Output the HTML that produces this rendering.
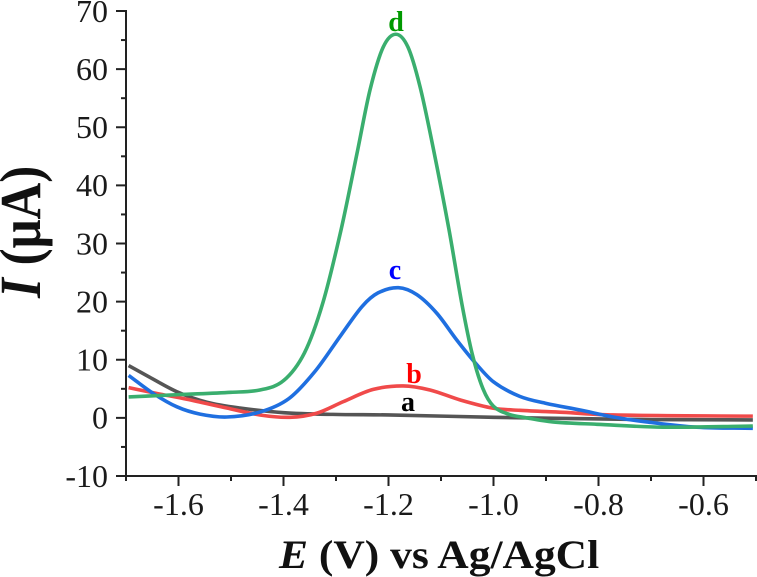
<!DOCTYPE html>
<html>
<head>
<meta charset="utf-8">
<style>
html,body{margin:0;padding:0;background:#fff;width:757px;height:577px;overflow:hidden}
svg{display:block}
text{font-family:"Liberation Serif",serif}
.tick{font-size:32px;fill:#1a1a1a}
.lab{font-size:28px;font-weight:bold;text-anchor:middle}
</style>
</head>
<body>
<svg id="chart" width="757" height="577" viewBox="0 0 757 577" xmlns="http://www.w3.org/2000/svg">
<g id="axes"></g>
<g id="series"></g>
<text class="lab" x="408" y="411" fill="#000">a</text>
<text class="lab" x="414" y="383" fill="#f00">b</text>
<text class="lab" x="395" y="279" fill="#00f">c</text>
<text class="lab" x="396" y="31" fill="#090">d</text>
<text transform="translate(279,568) scale(1,0.93)" font-size="43.5" font-weight="bold" fill="#111"><tspan font-style="italic">E</tspan> (V) vs Ag/AgCl</text>
<text transform="translate(40,298) rotate(-90) scale(1,1.15)" font-size="51" font-weight="bold" fill="#111"><tspan font-style="italic">I</tspan> (μA)</text>
</svg>
<script>
var xMajorTicks = [-1.6, -1.4, -1.2, -1.0, -0.8, -0.6];
var xMinorTicks = [-1.7, -1.5, -1.3, -1.1, -0.9, -0.7, -0.5];
var yMajorTicks = [-10, 0, 10, 20, 30, 40, 50, 60, 70];
var yMinorTicks = [-5, 5, 15, 25, 35, 45, 55, 65];

var aE = [-1.695, -1.655, -1.603, -1.546, -1.483, -1.4, -1.306, -1.2, -1.0, -0.9, -0.7, -0.506];
var aI = [9, 7, 4.5, 2.7, 1.7, 0.9, 0.6, 0.5, 0.1, -0.05, -0.3, -0.35];

var bE = [-1.695, -1.641, -1.584, -1.508, -1.445, -1.388, -1.337, -1.286, -1.229, -1.172, -1.121, -1.064, -1.0, -0.95, -0.868, -0.772, -0.506];
var bI = [5.2, 4.2, 3.2, 1.7, 0.5, 0.1, 0.8, 2.8, 4.9, 5.5, 4.8, 3.1, 1.65, 1.3, 0.95, 0.5, 0.3];

var cE = [-1.695, -1.648, -1.603, -1.559, -1.508, -1.445, -1.39, -1.34, -1.29, -1.25, -1.22, -1.181, -1.146, -1.108, -1.07, -1.035, -1.0, -0.95, -0.9, -0.835, -0.772, -0.708, -0.613, -0.506];
var cI = [7.3, 4.2, 1.9, 0.65, 0.15, 1, 3.3, 8, 14.3, 19.2, 21.5, 22.4, 21.2, 18, 13.4, 9.5, 6.2, 3.7, 2.5, 1.35, 0.15, -0.7, -1.6, -1.8];

var dE = [-1.695, -1.6, -1.5, -1.445, -1.4, -1.36, -1.325, -1.29, -1.26, -1.235, -1.21, -1.186, -1.163, -1.14, -1.115, -1.085, -1.06, -1.04, -1.02, -1.0, -0.97, -0.94, -0.887, -0.803, -0.677, -0.506];
var dI = [3.6, 4.0, 4.4, 4.8, 6.4, 11.2, 19.8, 32.5, 45.5, 56.5, 63.8, 66, 63.8, 57, 46.5, 32.5, 19.5, 10.8, 5, 2, 0.6, 0.05, -0.7, -1.1, -1.6, -1.4];

var NS = 'http://www.w3.org/2000/svg';
var axes = document.getElementById('axes');
var seriesGroup = document.getElementById('series');
var AXIS = '#222';

function sx(v) { return 126 + (v + 1.7) * 525; }
function sy(v) { return 476 - (v + 10) * 5.8125; }

function smoothPath(xs, ys) {
  var px = xs.map(sx), py = ys.map(sy);
  var d = 'M' + px[0] + ' ' + py[0];
  for (var i = 0; i < px.length - 1; i++) {
    var p0 = Math.max(i - 1, 0), p3 = Math.min(i + 2, px.length - 1);
    var h = px[i + 1] - px[i];
    var m1 = (py[i + 1] - py[p0]) / (px[i + 1] - px[p0]);
    var m2 = (py[p3] - py[i]) / (px[p3] - px[i]);
    d += 'C' + (px[i] + h / 3) + ' ' + (py[i] + m1 * h / 3) + ' ' + (px[i + 1] - h / 3) + ' ' + (py[i + 1] - m2 * h / 3) + ' ' + px[i + 1] + ' ' + py[i + 1];
  }
  return d;
}

function axisLine(x1, y1, x2, y2, w) {
  var l = document.createElementNS(NS, 'line');
  l.setAttribute('x1', x1);
  l.setAttribute('y1', y1);
  l.setAttribute('x2', x2);
  l.setAttribute('y2', y2);
  l.setAttribute('stroke', AXIS);
  l.setAttribute('stroke-width', w);
  axes.appendChild(l);
  return l;
}

var yAxis = axisLine(126, sy(70) - 1, 126, sy(-10) + 1, 2);


var xAxis = axisLine(126, sy(-10), 757, sy(-10), 2);



yMajorTicks.forEach(function (v) {
  var t = axisLine(116, sy(v), 126, sy(v), 2);
  
  
  var s = document.createElementNS(NS, 'text');
  
  
  s.setAttribute('class', 'tick');
  s.setAttribute('x', 108);
  s.setAttribute('y', sy(v) + 10.8);
  s.setAttribute('text-anchor', 'end');
  s.textContent = String(v);
  axes.appendChild(s);
});
yMinorTicks.forEach(function (v) {
  var t = axisLine(121, sy(v), 126, sy(v), 2);
  
  
});
xMajorTicks.forEach(function (v) {
  var t = axisLine(sx(v), 476, sx(v), 486, 2);
  
  
  var s = document.createElementNS(NS, 'text');
  
  
  s.setAttribute('class', 'tick');
  s.setAttribute('x', sx(v));
  s.setAttribute('y', 515);
  s.setAttribute('text-anchor', 'middle');
  s.textContent = v.toFixed(1);
  axes.appendChild(s);
});
xMinorTicks.forEach(function (v) {
  var t = axisLine(sx(v), 476, sx(v), 481, 2);
  
  
});

function addCurve(xs, ys, color) {
  var p = document.createElementNS(NS, 'path');
  p.setAttribute('d', smoothPath(xs, ys));
  p.setAttribute('fill', 'none');
  p.setAttribute('stroke', color);
  p.setAttribute('stroke-width', 3.6);
  p.setAttribute('stroke-linejoin', 'round');
  seriesGroup.appendChild(p);
  return p;
}

var curveA = addCurve(aE, aI, '#555555');


var curveB = addCurve(bE, bI, '#f04a4a');


var curveC = addCurve(cE, cI, '#1f6fe0');


var curveD = addCurve(dE, dI, '#3aae6e');


</script>
</body>
</html>
